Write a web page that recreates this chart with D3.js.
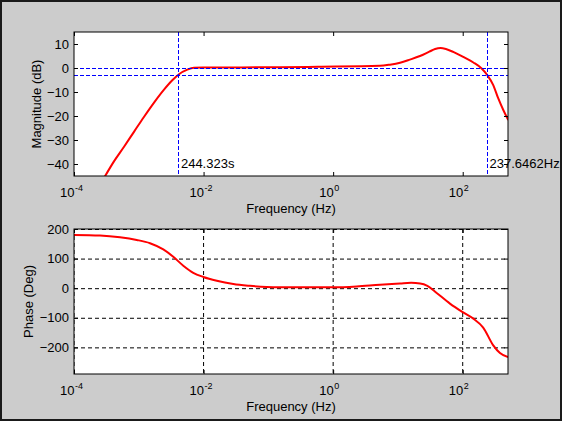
<!DOCTYPE html>
<html>
<head>
<meta charset="utf-8">
<script src="https://cdn.jsdelivr.net/npm/d3@7"></script>
<style>
body { margin: 0; background: #cccccc; }
svg { display: block; }
text { font-family: "Liberation Sans", Arial, sans-serif; fill: #000; }
</style>
</head>
<body>
<div id="bode"></div>
<script>
// magnitude curve (Hz, dB)
var magFreq = [2.98e-4, 4.14e-4, 5.92e-4, 8.43e-4, 1.20e-3, 1.72e-3, 2.45e-3, 3.29e-3, 4.18e-3,
	5.61e-3, 7.11e-3, 9.79e-3, 0.151, 0.583, 5.28, 7.53, 10.8, 15.3, 21.9, 30.5, 37.5, 45.5,
	55.0, 71.4, 102, 146, 196, 239, 296, 354, 423, 505];
var magDb = [-45.3, -38.9, -32.8, -26.6, -20.4, -14.4, -9.0, -5.1, -2.6,
	-0.7, 0.1, 0.2, 0.3, 0.5, 0.9, 1.4, 2.2, 3.5, 5.0, 6.8, 7.9, 8.3,
	7.9, 6.7, 4.6, 2.3, -0.2, -2.9, -7.1, -12.7, -17.5, -21.7];

// phase curve (Hz, deg)
var phaseFreq = [1.00e-4, 2.52e-4, 5.13e-4, 9.29e-4, 1.49e-3, 2.39e-3, 3.41e-3, 4.86e-3, 6.93e-3,
	9.91e-3, 1.60e-2, 2.88e-2, 5.20e-2, 9.42e-2, 0.151, 1.00, 2.31, 5.28, 10.8, 16.0, 22.0, 28.5,
	39.6, 63.5, 98.4, 146, 207, 296, 376, 500];
var phaseDeg = [180, 178, 172, 163, 152, 131, 106, 76, 52,
	38, 25, 14, 8, 4, 3, 3, 6, 12, 16, 18, 16, 8,
	-16, -52, -80, -103, -133, -193, -219, -233];

// axis ticks
var freqTicks = [1e-4, 1e-2, 1, 1e2];
var freqExp = ["-4", "-2", "0", "2"];
var magTicks = [10, 0, -10, -20, -30, -40];
var phaseTicks = [200, 100, 0, -100, -200];

// -3dB markers
var lowCutPeriod = 244.323;   // s
var highCutFreq = 237.6462;   // Hz
var refLevels = [0, -3];

var width = 562,
height = 421,
left = 74,
right = 508,
tick_len = 4;

var panels = [
	{ id: "mag", top: 32, bottom: 176, domain: [-45, 15], ticks: magTicks, label: "Magnitude (dB)", labelX: 41, grid: false },
	{ id: "phase", top: 229, bottom: 374, domain: [-290, 200], ticks: phaseTicks, label: "Phase (Deg)", labelX: 33, grid: true }
];

var svg = d3.select("#bode")
.append("svg")
.attr("width", width)
.attr("height", height);

svg.append("rect")
.attr("width", width)
.attr("height", height)
.attr("fill", "#cccccc");

svg.append("rect")
.attr("x", 1)
.attr("y", 1)
.attr("width", width - 2)
.attr("height", height - 2)
.attr("fill", "none")
.attr("stroke", "#1a1a1a")
.attr("stroke-width", 2);

var xScale = d3.scaleLog()
.domain([1e-4, 500])
.range([left, right]);

panels.forEach(function(p) {

	var yScale = d3.scaleLinear()
	.domain(p.domain)
	.range([p.bottom, p.top]);

	var g = svg.append("g").attr("id", p.id);

	g.append("clipPath")
	.attr("id", "clip-" + p.id)
	.append("rect")
	.attr("x", left)
	.attr("y", p.top)
	.attr("width", right - left)
	.attr("height", p.bottom - p.top);

	g.append("rect")
	.attr("x", left)
	.attr("y", p.top)
	.attr("width", right - left)
	.attr("height", p.bottom - p.top)
	.attr("fill", "#fff");

	var plot = g.append("g").attr("clip-path", "url(#clip-" + p.id + ")");

	if (p.grid) {
		plot.selectAll("line.vgrid")
		.data(freqTicks)
		.enter()
		.append("line")
		.attr("x1", function(d) { return xScale(d) })
		.attr("x2", function(d) { return xScale(d) })
		.attr("y1", p.top)
		.attr("y2", p.bottom)
		.attr("stroke", "#000")
		.attr("stroke-dasharray", "4,3");

		plot.selectAll("line.hgrid")
		.data(p.ticks)
		.enter()
		.append("line")
		.attr("x1", left)
		.attr("x2", right)
		.attr("y1", function(d) { return yScale(d) + 0.5 })
		.attr("y2", function(d) { return yScale(d) + 0.5 })
		.attr("stroke", "#000")
		.attr("stroke-dasharray", "4,3");
	}

	var freqs = p.id == "mag" ? magFreq : phaseFreq;
	var vals = p.id == "mag" ? magDb : phaseDeg;

	var line = d3.line()
	.x(function(d) { return xScale(d[0]) })
	.y(function(d) { return yScale(d[1]) })
	.curve(d3.curveMonotoneX);

	plot.append("path")
	.datum(d3.zip(freqs, vals))
	.attr("d", line)
	.attr("fill", "none")
	.attr("stroke", "#ff0000")
	.attr("stroke-width", 2);

	if (p.id == "mag") {
		plot.selectAll("line.ref")
		.data(refLevels)
		.enter()
		.append("line")
		.attr("x1", left)
		.attr("x2", right)
		.attr("y1", function(d) { return Math.round(yScale(d)) + 0.5 })
		.attr("y2", function(d) { return Math.round(yScale(d)) + 0.5 })
		.attr("stroke", "#0000ff")
		.attr("stroke-dasharray", "4,2");

		var cuts = [1 / lowCutPeriod, highCutFreq];
		plot.selectAll("line.cut")
		.data(cuts)
		.enter()
		.append("line")
		.attr("x1", function(d) { return Math.round(xScale(d)) + 0.5 })
		.attr("x2", function(d) { return Math.round(xScale(d)) + 0.5 })
		.attr("y1", p.top)
		.attr("y2", p.bottom)
		.attr("stroke", "#0000ff")
		.attr("stroke-dasharray", "4,2");

		var notes = [lowCutPeriod + "s", highCutFreq + "Hz"];
		g.selectAll("text.note")
		.data(cuts)
		.enter()
		.append("text")
		.attr("class", "note")
		.text(function(d, i) { return notes[i] })
		.attr("x", function(d) { return xScale(d) + 2.5 })
		.attr("y", p.bottom - 8)
		.attr("font-size", "13px");
	}

	// ticks on all four sides, pointing in
	var bottomAxis = g.append("g")
	.attr("transform", "translate(0," + p.bottom + ")")
	.call(d3.axisBottom(xScale).tickValues(freqTicks).tickSizeInner(-tick_len).tickSizeOuter(0).tickFormat(""));
	g.append("g")
	.attr("transform", "translate(0," + p.top + ")")
	.call(d3.axisTop(xScale).tickValues(freqTicks).tickSizeInner(-tick_len).tickSizeOuter(0).tickFormat(""));
	var leftAxis = g.append("g")
	.attr("transform", "translate(" + left + ",0)")
	.call(d3.axisLeft(yScale).tickValues(p.ticks).tickSizeInner(-tick_len).tickSizeOuter(0).tickPadding(5));
	g.append("g")
	.attr("transform", "translate(" + right + ",0)")
	.call(d3.axisRight(yScale).tickValues(p.ticks).tickSizeInner(-tick_len).tickSizeOuter(0).tickFormat(""));

	g.selectAll(".domain").remove();
	g.selectAll(".tick line").attr("stroke", "#000");

	leftAxis.selectAll("text")
	.attr("font-size", "13px")
	.attr("font-family", "Liberation Sans, Arial, sans-serif")
	.attr("fill", "#000");

	// 10^n labels
	bottomAxis.selectAll(".tick").each(function(d, i) {
		var t = d3.select(this);
		t.append("text")
		.text("10")
		.attr("x", 0)
		.attr("y", 21)
		.attr("text-anchor", "end")
		.attr("font-size", "13px")
		.attr("font-family", "Liberation Sans, Arial, sans-serif")
		.attr("fill", "#000");
		t.append("text")
		.text(freqExp[i])
		.attr("x", 0.5)
		.attr("y", 15)
		.attr("text-anchor", "start")
		.attr("font-size", "9px")
		.attr("font-family", "Liberation Sans, Arial, sans-serif")
		.attr("fill", "#000");
	});

	g.append("rect")
	.attr("x", left)
	.attr("y", p.top)
	.attr("width", right - left)
	.attr("height", p.bottom - p.top)
	.attr("fill", "none")
	.attr("stroke", "#000")
	.attr("stroke-width", 1);

	g.append("text")
	.text("Frequency (Hz)")
	.attr("x", (left + right) / 2)
	.attr("y", p.bottom + 36.5)
	.attr("text-anchor", "middle")
	.attr("font-size", "13px");

	g.append("text")
	.text(p.label)
	.attr("transform", "translate(" + p.labelX + "," + (p.top + p.bottom) / 2 + ") rotate(-90)")
	.attr("text-anchor", "middle")
	.attr("font-size", "13px");
});
</script>
</body>
</html>
